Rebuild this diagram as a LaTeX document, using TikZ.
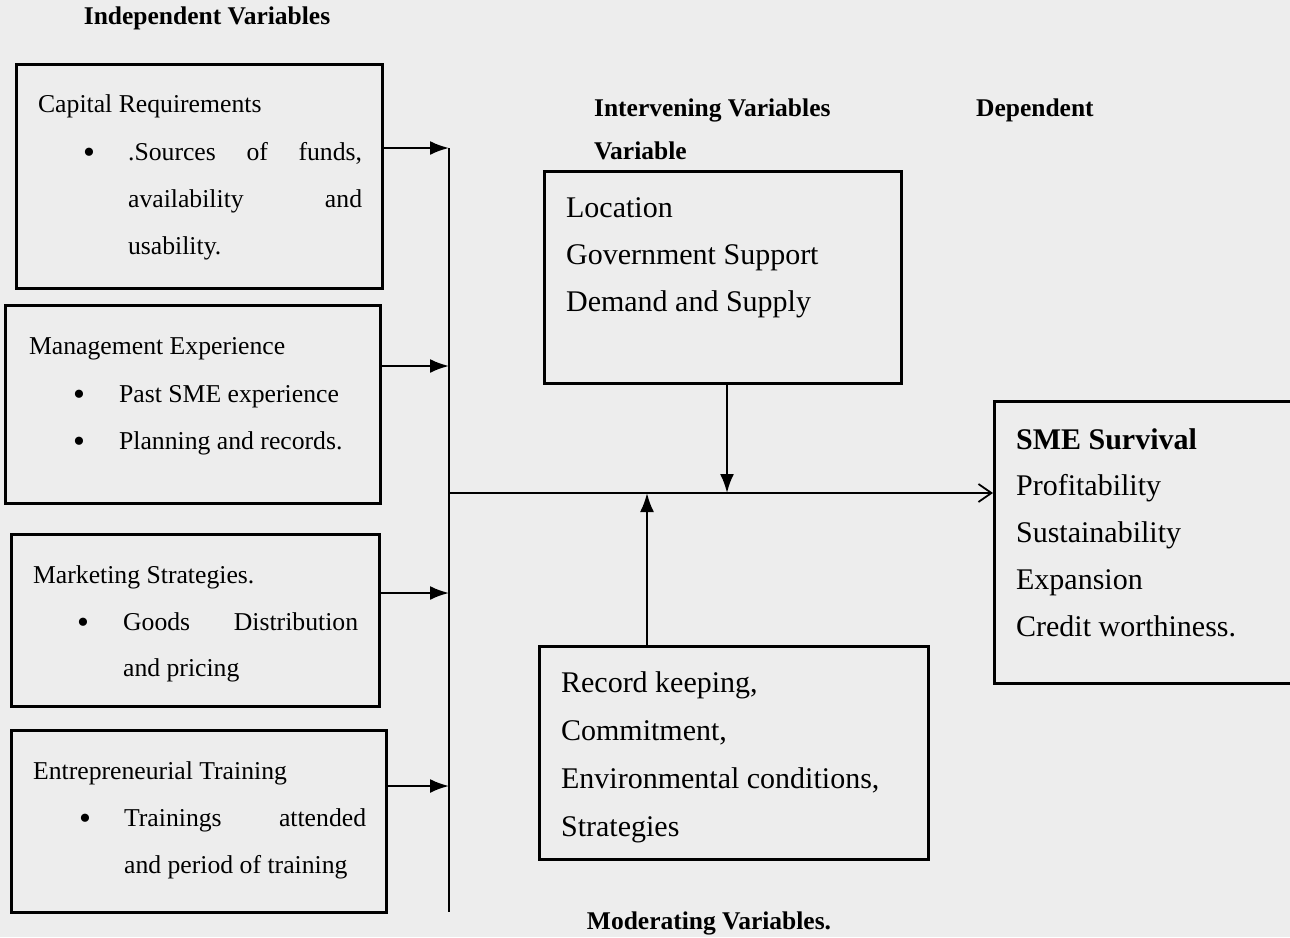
\documentclass[tikz,border=0pt]{standalone}
\usepackage{fontspec}
\setmainfont{Liberation Serif}
\usetikzlibrary{arrows.meta}
\definecolor{paper}{HTML}{EDEDED}

\begin{document}
\begin{tikzpicture}[x=1pt,y=-1pt,line width=2.2pt,
    box/.style={draw,line width=2.6pt,anchor=north west,inner sep=0pt},
    small/.style={anchor=west,inner sep=0pt,font=\fontsize{25.7}{30}\selectfont,text height=18pt,text depth=6pt},
    dot/.style={small,font=\fontsize{34}{34}\selectfont,yshift=-3pt},
    big/.style={small,font=\fontsize{30}{36}\selectfont,text height=21pt,text depth=7pt},
    head/.style={small,font=\fontsize{25.5}{30}\selectfont\bfseries},
    arr/.style={-{Latex[length=19pt,width=14pt]}},
    openarr/.style={-{Straight Barb[length=13pt,width=18pt,line width=1.8pt]}}]
  \fill[paper,use as bounding box] (0,0) rectangle (1290,937);
  \clip (0,0) rectangle (1290,937);

  \node[head,anchor=center] (indep) at (207,18) {Independent Variables};
  \node[head] (interv) at (593,110) {Intervening Variables};
  \node[head] (interv2) at (593,153) {Variable};
  \node[head] (dep) at (975,110) {Dependent};
  \node[head,anchor=center] (moder) at (709,923) {Moderating Variables.};

  % independent boxes
  \node[box,minimum width=366,minimum height=224] (cap) at (15,63) {};
  \node[small] (cap-t) at (37,106) {Capital Requirements};
  \node[dot] (cap-dot) at (82,154) {\textbullet};
  \node[small] (cap-1) at (127,154) {\makebox[234pt][s]{.Sources of funds,}};
  \node[small] (cap-2) at (127,201) {\makebox[234pt][s]{availability and}};
  \node[small] (cap-3) at (127,248) {usability.};

  \node[box,minimum width=375,minimum height=198] (mgmt) at (4,304) {};
  \node[small] (mgmt-t) at (28,348) {Management Experience};
  \foreach \t [count=\i] in {Past SME experience,Planning and records.}{
    \node[dot] (mgmt-dot\i) at (72,349+47*\i) {\textbullet};
    \node[small] (mgmt-\i) at (118,349+47*\i) {\t};
  }

  \node[box,minimum width=368,minimum height=172] (mkt) at (10,533) {};
  \node[small] (mkt-t) at (32,577) {Marketing Strategies.};
  \node[dot] (mkt-dot) at (76,624) {\textbullet};
  \node[small] (mkt-1) at (122,624) {\makebox[235pt][s]{Goods Distribution}};
  \node[small] (mkt-2) at (122,670) {and pricing};

  \node[box,minimum width=375,minimum height=182] (ent) at (10,729) {};
  \node[small] (ent-t) at (32,773) {Entrepreneurial Training};
  \node[dot] (ent-dot) at (78,820) {\textbullet};
  \node[small] (ent-1) at (123,820) {\makebox[242pt][s]{Trainings attended}};
  \node[small] (ent-2) at (123,867) {and period of training};

  % intervening, moderating, dependent
  \node[box,minimum width=357,minimum height=212] (ivar) at (543,170) {};
  \foreach \t [count=\i] in {Location,Government Support,Demand and Supply}
    \node[big] (ivar-\i) at (565,163+47*\i) {\t};

  \node[box,minimum width=389,minimum height=213] (mod) at (538,645) {};
  \foreach \t [count=\i] in {{Record keeping,},{Commitment,},{Environmental conditions,},Strategies}
    \node[big] (mod-\i) at (560,637+48*\i) {\t};

  \node[box,minimum width=340,minimum height=282] (sme) at (993,400) {};
  \node[big,font=\fontsize{30}{36}\selectfont\bfseries] (sme-t) at (1015,442) {SME Survival};
  \foreach \t [count=\i] in {Profitability,Sustainability,Expansion,Credit worthiness.}
    \node[big] (sme-\i) at (1015,441+47*\i) {\t};

  % connectors
  \coordinate (in1) at (449,148);
  \coordinate (in2) at (449,366);
  \coordinate (in3) at (449,593);
  \coordinate (in4) at (449,786);
  \coordinate (bus-end) at (449,912);
  \coordinate (junc) at (449,493);
  \coordinate (down) at (727,493);
  \coordinate (up) at (647,493);
  \draw (in1) -- (bus-end);
  \draw[arr] (cap.east |- in1) -- (in1);
  \draw[arr] (mgmt.east |- in2) -- (in2);
  \draw[arr] (mkt.east |- in3) -- (in3);
  \draw[arr] (ent.east |- in4) -- (in4);
  \draw[openarr] (junc) -- (sme.west |- junc);
  \draw[arr] (ivar.south -| down) -- (down);
  \draw[arr] (mod.north -| up) -- (up);
\end{tikzpicture}
\end{document}
